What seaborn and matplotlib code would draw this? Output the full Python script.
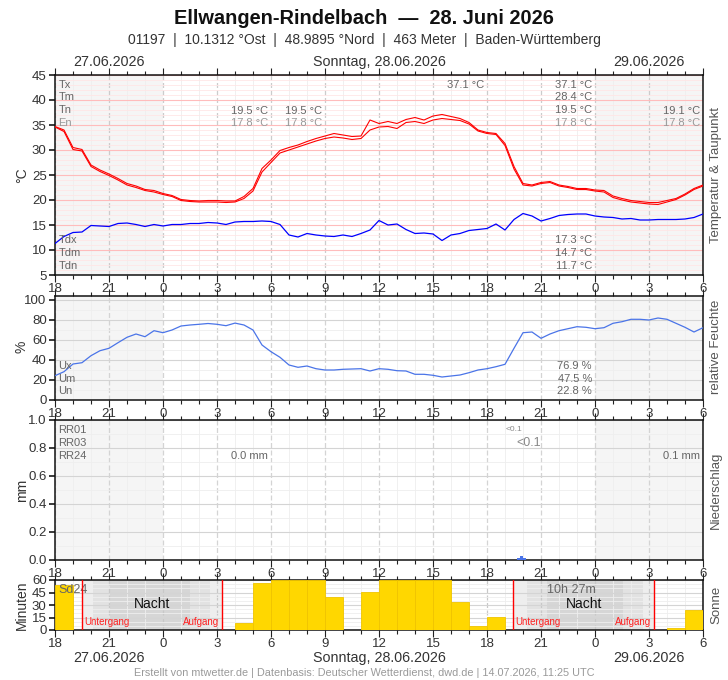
import numpy as np
import pandas as pd
import matplotlib
matplotlib.use('Agg')
import matplotlib.pyplot as plt
from matplotlib.ticker import MultipleLocator, FixedLocator, FixedFormatter
import seaborn as sns

sns.set_theme(style='white')
plt.rcParams['font.family'] = ['Liberation Sans Narrow', 'Liberation Sans', 'DejaVu Sans']

# --- data: 30-min samples from 27.06. 18:00 UTC to 29.06. 06:00 UTC ---
temp_hi = [34.7, 34.0, 30.5, 30.1, 27.0, 26.0, 25.2, 24.3, 23.3, 22.8, 22.1, 21.9,
           21.3, 20.9, 20.1, 19.9, 19.8, 19.9, 19.9, 19.8, 19.8, 20.7, 22.3, 26.3,
           28.0, 29.9, 30.5, 31.0, 31.7, 32.3, 32.8, 33.3, 33.0, 32.7, 32.8, 36.0,
           35.3, 35.7, 35.3, 36.1, 36.5, 36.0, 36.8, 37.1, 36.7, 36.3, 35.5, 34.0,
           33.5, 33.3, 31.3, 26.7, 23.3, 23.0, 23.5, 23.7, 23.0, 22.7, 22.3, 22.3,
           22.0, 21.9, 20.8, 20.3, 19.9, 19.7, 19.5, 19.5, 19.9, 20.3, 21.2, 22.3, 23.0]
temp_lo = [34.6, 33.7, 30.1, 29.8, 26.7, 25.7, 24.9, 24.0, 23.0, 22.5, 21.9, 21.6,
           21.1, 20.7, 19.9, 19.7, 19.6, 19.6, 19.6, 19.5, 19.6, 20.3, 21.8, 25.6,
           27.5, 29.4, 30.0, 30.6, 31.2, 31.8, 32.3, 32.6, 32.4, 32.1, 32.3, 34.0,
           34.6, 34.7, 34.3, 35.5, 35.7, 35.3, 36.0, 36.3, 36.1, 35.9, 35.2, 33.8,
           33.3, 33.1, 30.9, 26.2, 23.0, 22.8, 23.3, 23.5, 22.8, 22.5, 22.1, 22.1,
           21.8, 21.6, 20.5, 20.0, 19.6, 19.4, 19.2, 19.1, 19.6, 20.1, 21.0, 22.1, 22.8]
dewpoint = [11.3, 12.7, 13.5, 13.6, 14.9, 14.8, 14.7, 15.3, 15.4, 15.1, 14.7, 15.1,
            14.8, 15.1, 15.1, 15.3, 15.3, 15.5, 15.4, 15.1, 15.6, 15.7, 15.7, 15.8,
            15.7, 15.1, 13.0, 12.6, 13.3, 13.0, 12.8, 12.7, 13.0, 12.7, 13.3, 14.0,
            15.9, 15.0, 15.2, 14.1, 13.3, 13.4, 13.2, 11.9, 13.0, 13.3, 13.9, 14.1,
            14.3, 15.2, 14.0, 16.1, 17.3, 16.8, 15.8, 16.3, 16.9, 17.1, 17.2, 17.2,
            16.8, 16.6, 16.5, 16.2, 16.3, 16.0, 16.0, 16.1, 16.1, 16.1, 16.2, 16.5, 17.2]
humidity = [24.3, 28.3, 36.0, 37.3, 44.3, 49.3, 51.7, 57.3, 62.7, 66.0, 63.3, 69.3,
            67.3, 70.0, 74.0, 75.0, 75.7, 76.5, 75.7, 74.3, 76.9, 75.0, 70.0, 55.0,
            48.3, 42.7, 35.0, 32.7, 34.0, 31.3, 30.0, 30.0, 30.7, 31.0, 31.3, 29.0,
            31.3, 30.7, 29.3, 29.0, 25.7, 25.7, 24.7, 23.0, 24.0, 25.0, 27.3, 30.0,
            31.3, 33.3, 35.7, 51.7, 67.3, 68.0, 61.7, 66.0, 69.3, 71.3, 73.3, 72.7,
            71.3, 72.3, 76.7, 78.3, 80.7, 80.7, 80.0, 82.0, 80.7, 76.7, 72.7, 68.0, 72.3]
# hourly sunshine minutes, hour starting 18:00 on 27.06.
sunshine = [54, 0, 0, 0, 0, 0, 0, 0, 0, 0, 9, 57, 60, 60, 60, 40, 0, 46,
            60, 60, 60, 60, 34, 5, 16, 0, 0, 0, 0, 0, 0, 0, 0, 0, 2, 24]
# 10-min precipitation (hours since 27.06. 18:00, mm)
rain_time = [25.667, 25.833, 26.0]
rain_mm = [0.015, 0.03, 0.015]
sunset = [1.52, 25.46]
sunrise = [9.29, 33.29]
hour_labels = ['18', '21', '0', '3', '6', '9', '12', '15', '18', '21', '0', '3', '6']

t = np.arange(len(temp_hi)) * 0.5
df = pd.DataFrame({'t': t, 'hi': temp_hi, 'lo': temp_lo, 'td': dewpoint, 'rh': humidity})

W, H = 728, 680
fig = plt.figure(figsize=(W / 100, H / 100), dpi=100)
fig.patch.set_facecolor('white')


def add_ax(top, bottom):
    return fig.add_axes([55 / W, 1 - bottom / H, 648 / W, (bottom - top) / H])


def ftxt(px, py, s, **kw):
    fig.text(px / W, 1 - py / H, s, **kw)


def style_ax(ax, major_grid, minor_grid, vgrid='#d4d4d4', vminor='#eeeeee', night=True):
    ax.set_xlim(0, 36)
    ax.set_facecolor('white')
    if night:
        ax.axvspan(0, 6, color='#f5f5f5', zorder=0, lw=0)
        ax.axvspan(30, 36, color='#f5f5f5', zorder=0, lw=0)
    ax.xaxis.set_major_locator(FixedLocator(np.arange(0, 37, 3)))
    ax.xaxis.set_major_formatter(FixedFormatter(hour_labels))
    ax.xaxis.set_minor_locator(MultipleLocator(1))
    ax.grid(which='major', axis='y', color=major_grid, lw=0.8, zorder=1)
    ax.grid(which='minor', axis='y', color=minor_grid, lw=0.6, zorder=1)
    ax.grid(which='major', axis='x', color=vgrid, lw=0.9, ls=(0, (4, 2)), zorder=1)
    ax.grid(which='minor', axis='x', color=vminor, lw=0.6, zorder=1)
    ax.set_axisbelow(True)
    ax.tick_params(axis='x', which='both', direction='out', top=True, bottom=True,
                   labelsize=9.5, labelcolor='#333333', pad=0.5, color='#222222')
    ax.tick_params(axis='x', which='major', length=5, width=0.8)
    ax.tick_params(axis='x', which='minor', length=3, width=0.8)
    ax.tick_params(axis='y', which='major', direction='out', left=True, length=4,
                   labelsize=9.5, labelcolor='#333333', pad=2, color='#222222')
    ax.tick_params(axis='y', which='minor', left=False)
    for s in ax.spines.values():
        s.set_color('#111111')
        s.set_linewidth(1.1)
    ax.set_xlabel('')
    ax.set_ylabel('')


lab = dict(color='#666666', fontsize=8)

# ---------------- temperature ----------------
ax1 = add_ax(75, 275)
style_ax(ax1, '#ffbcbc', '#ffe6e6', vgrid='#cccccc')
ax1.set_ylim(5, 45)
ax1.yaxis.set_major_locator(MultipleLocator(5))
ax1.yaxis.set_minor_locator(MultipleLocator(1))
sns.lineplot(data=df, x='t', y='hi', ax=ax1, color='#ff0000', lw=0.8, estimator=None, zorder=3)
sns.lineplot(data=df, x='t', y='lo', ax=ax1, color='#ff0000', lw=0.8, estimator=None, zorder=3)
sns.lineplot(data=df, x='t', y='td', ax=ax1, color='#0000ff', lw=0.9, estimator=None, zorder=3)
ax1.set_xlabel('')
ax1.set_ylabel('')
for i, (name, c) in enumerate([('Tx', '#666666'), ('Tm', '#666666'), ('Tn', '#666666'), ('En', '#999999')]):
    y = 43 - 2.5 * i
    ax1.text(0.2, y, name, va='center', ha='left', color=c, fontsize=8)
ax1.text(11.83, 37.8, '19.5 °C', ha='right', va='center', **lab)
ax1.text(14.83, 37.8, '19.5 °C', ha='right', va='center', **lab)
ax1.text(11.83, 35.3, '17.8 °C', ha='right', va='center', color='#999999', fontsize=8)
ax1.text(14.83, 35.3, '17.8 °C', ha='right', va='center', color='#999999', fontsize=8)
ax1.text(23.83, 43, '37.1 °C', ha='right', va='center', **lab)
for i, (v, c) in enumerate([('37.1 °C', '#666666'), ('28.4 °C', '#666666'),
                            ('19.5 °C', '#666666'), ('17.8 °C', '#999999')]):
    ax1.text(29.83, 43 - 2.5 * i, v, ha='right', va='center', color=c, fontsize=8)
ax1.text(35.83, 37.8, '19.1 °C', ha='right', va='center', **lab)
ax1.text(35.83, 35.3, '17.8 °C', ha='right', va='center', color='#999999', fontsize=8)
for i, (name, v) in enumerate([('Tdx', '17.3 °C'), ('Tdm', '14.7 °C'), ('Tdn', '11.7 °C')]):
    y = 12 - 2.6 * i
    ax1.text(0.2, y, name, ha='left', va='center', **lab)
    ax1.text(29.83, y, v, ha='right', va='center', **lab)

# ---------------- humidity ----------------
ax2 = add_ax(295.7, 400)
style_ax(ax2, '#d4d4d4', '#eeeeee')
ax2.set_ylim(0, 104.3)
ax2.yaxis.set_major_locator(FixedLocator([0, 20, 40, 60, 80, 100]))
ax2.yaxis.set_minor_locator(FixedLocator([10, 30, 50, 70, 90]))
sns.lineplot(data=df, x='t', y='rh', ax=ax2, color='#4a74e8', lw=0.9, estimator=None, zorder=3)
ax2.set_xlabel('')
ax2.set_ylabel('')
for i, (name, v) in enumerate([('Ux', '76.9 %'), ('Um', '47.5 %'), ('Un', '22.8 %')]):
    y = 34 - 12.5 * i
    ax2.text(0.2, y, name, ha='left', va='center', **lab)
    ax2.text(29.83, y, v, ha='right', va='center', **lab)

# ---------------- precipitation ----------------
ax3 = add_ax(420, 560)
style_ax(ax3, '#d4d4d4', '#eeeeee')
ax3.set_ylim(0, 1.0)
ax3.yaxis.set_major_locator(MultipleLocator(0.2))
ax3.yaxis.set_minor_locator(MultipleLocator(0.1))
ax3.yaxis.set_major_formatter(matplotlib.ticker.FormatStrFormatter('%.1f'))
ax3.bar(rain_time, rain_mm, width=1 / 6, align='edge', color='#4a74e8', lw=0, zorder=3)
for i, name in enumerate(['RR01', 'RR03', 'RR24']):
    ax3.text(0.2, 0.929 - 0.093 * i, name, ha='left', va='center', **lab)
ax3.text(11.83, 0.743, '0.0 mm', ha='right', va='center', **lab)
ax3.text(25.5, 0.929, '<0.1', ha='center', va='center', color='#888888', fontsize=6)
ax3.text(26.3, 0.836, '<0.1', ha='center', va='center', color='#888888', fontsize=9)
ax3.text(35.83, 0.743, '0.1 mm', ha='right', va='center', **lab)

# ---------------- sunshine ----------------
ax4 = add_ax(580, 630)
style_ax(ax4, '#d4d4d4', '#eeeeee', vgrid='#c8c8c8', night=False)
ax4.set_ylim(0, 60)
ax4.yaxis.set_major_locator(MultipleLocator(15))
ax4.yaxis.set_minor_locator(MultipleLocator(5))
night_bands = [(sunset[0], 2.11, '#eeeeee'), (2.11, 3.06, '#e2e2e2'), (3.06, 7.5, '#d6d6d6'),
               (7.5, 8.61, '#e2e2e2'), (8.61, sunrise[0], '#eeeeee'),
               (sunset[1], 26.22, '#eeeeee'), (26.22, 27.33, '#e2e2e2'), (27.33, 31.56, '#d6d6d6'),
               (31.56, 32.67, '#e2e2e2'), (32.67, sunrise[1], '#eeeeee')]
for a, b, c in night_bands:
    ax4.axvspan(a, b, color=c, lw=0, zorder=0.5)
ax4.bar(np.arange(len(sunshine)), sunshine, width=1, align='edge', color='#ffd700',
        edgecolor='#f0c400', lw=0.6, zorder=3)
for x in sunset + sunrise:
    ax4.axvline(x, color='#ff0000', lw=1.0, zorder=4)
for s_, r_ in zip(sunset, sunrise):
    ax4.text(s_ + 0.1, 9.6, 'Untergang', ha='left', va='center', color='#ff2020', fontsize=7)
    ax4.text(r_ - 0.17, 9.6, 'Aufgang', ha='right', va='center', color='#ff2020', fontsize=7)
ax4.text(5.4, 31, 'Nacht', ha='center', va='center', color='#111111', fontsize=10)
ax4.text(29.4, 31, 'Nacht', ha='center', va='center', color='#111111', fontsize=10)
ax4.text(0.2, 48, 'Sd24', ha='left', va='center', color='#666666', fontsize=9)
ax4.text(28.66, 48, '10h 27m', ha='center', va='center', color='#666666', fontsize=9)

# ---------------- surrounding text ----------------
ftxt(364, 18, 'Ellwangen-Rindelbach  —  28. Juni 2026', ha='center', va='center',
     fontsize=14.4, fontweight='bold', color='#111111')
ftxt(364, 40, '01197  |  10.1312 °Ost  |  48.9895 °Nord  |  463 Meter  |  Baden-Württemberg',
     ha='center', va='center', fontsize=10, color='#333333')
for py in (62, 658):
    ftxt(109, py, '27.06.2026', ha='center', va='center', fontsize=10.3, color='#333333')
    ftxt(379, py, 'Sonntag, 28.06.2026', ha='center', va='center', fontsize=10.3, color='#333333')
    ftxt(649, py, '29.06.2026', ha='center', va='center', fontsize=10.3, color='#333333')
ftxt(364, 673, 'Erstellt von mtwetter.de | Datenbasis: Deutscher Wetterdienst, dwd.de | 14.07.2026, 11:25 UTC',
     ha='center', va='center', fontsize=7.8, color='#999999')

for py, s in [(175, '°C'), (347, '%'), (490, 'mm'), (605, 'Minuten')]:
    ftxt(22, py, s, ha='center', va='center', rotation=90, fontsize=10, color='#333333')
for py, s in [(175, 'Temperatur & Taupunkt'), (347, 'relative Feuchte'),
              (490, 'Niederschlag'), (605, 'Sonne')]:
    ftxt(716, py, s, ha='center', va='center', rotation=90, fontsize=9.5, color='#555555')

fig.savefig('out.png', dpi=100, facecolor='white')
